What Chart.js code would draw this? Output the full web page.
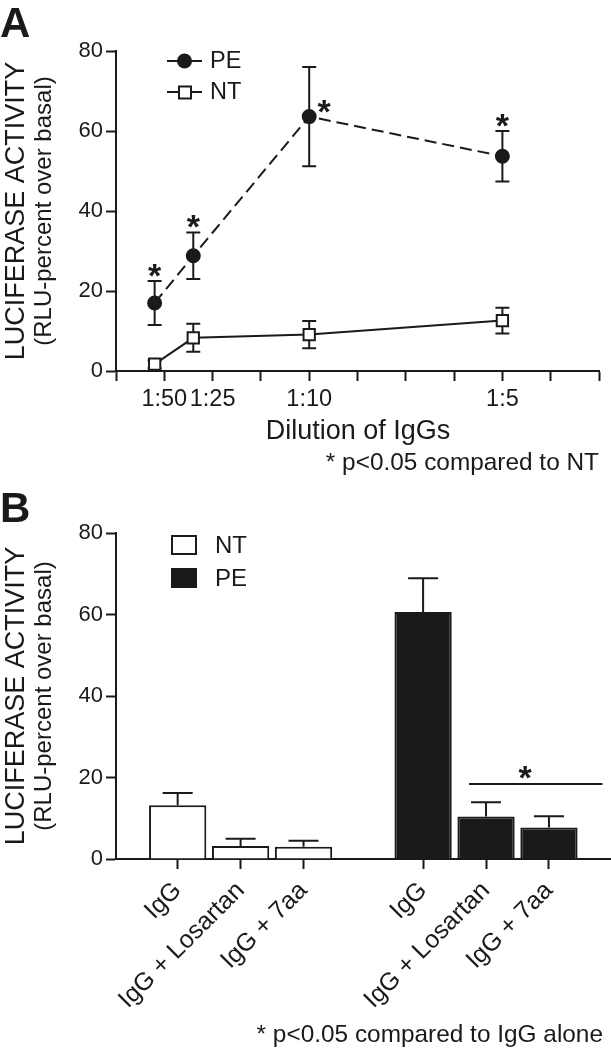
<!DOCTYPE html>
<html>
<head>
<meta charset="utf-8">
<script src="https://cdn.jsdelivr.net/npm/chart.js@4.4.1/dist/chart.umd.min.js"></script>
<style>
  html, body { margin: 0; padding: 0; background: #fff; }
  #wrap { position: relative; width: 611px; height: 1050px; }
  .panel { position: absolute; left: 0; width: 611px; }
  #panelA { top: 0; height: 480px; }
  #panelB { top: 480px; height: 570px; }
</style>
</head>
<body>
<div id="wrap">
  <div class="panel" id="panelA"><canvas id="chartA" width="611" height="480"></canvas></div>
  <div class="panel" id="panelB"><canvas id="chartB" width="611" height="570"></canvas></div>
</div>
<script>
// Panel A - activity vs dilution of IgGs
const dilutionLabels = ['1:50', '1:25', '1:10', '1:5'];
const dilutionTicks = [1, 2, 4, 8];
const dilutionX = [0.8, 1.6, 4, 8];
const pePoints = [17.0, 28.8, 63.6, 53.7];
const peErr = [5.5, 5.8, 12.4, 6.3];
const ntPoints = [1.7, 8.3, 9.1, 12.6];
const ntErr = [1.0, 3.5, 3.4, 3.2];
const peSig = [true, true, true, true];

// Panel B - receptor blockade
const groups = ['NT', 'PE'];
const treatments = ['IgG', 'IgG + Losartan', 'IgG + 7aa'];
const ntBars = [13.2, 3.2, 3.0];
const ntBarErr = [3.0, 1.8, 1.5];
const peBars = [60.6, 10.4, 7.7];
const peBarErr = [8.3, 3.5, 2.8];

const Y_TITLE = 'LUCIFERASE ACTIVITY';
const Y_SUBTITLE = '(RLU-percent over basal)';

const INK = '#1a1a1a';
const FONT = "'Liberation Sans', Arial, Helvetica, sans-serif";
Chart.defaults.font.family = FONT;
Chart.defaults.color = INK;

// where each star goes relative to its point
const starSide = ['above', 'above', 'right', 'above'];
// bracket over the blocked PE bars (data space)
const sigBracket = { from: 4.63, to: 6.75, y: 18.4, starX: 5.52 };
const GROUP_GAP = 1.9;

const barX = [];
const barLabels = [];
groups.forEach((g, gi) => {
  treatments.forEach((t, ti) => {
    barX.push(gi * (treatments.length - 1 + GROUP_GAP) + ti);
    barLabels.push(t);
  });
});

function drawStar(ctx, x, cy) {
  ctx.fillText('*', x, cy + 19.5);
}

function axisLine() {
  return { display: true, color: INK, width: 2 };
}
function tickMarks() {
  return { display: true, offset: false, drawOnChartArea: false, drawTicks: true, tickLength: 10, tickWidth: 2, tickColor: INK };
}

// texts and the rotated y title
function textPlugin(items) {
  return {
    id: 'panelText',
    afterDraw(chart) {
      const ctx = chart.ctx;
      const a = chart.chartArea;
      ctx.save();
      ctx.fillStyle = INK;
      ctx.textBaseline = 'alphabetic';
      items.forEach(t => {
        ctx.font = t.font;
        ctx.textAlign = t.align || 'left';
        ctx.fillText(t.text, t.x, t.y);
      });
      ctx.translate(24, (a.top + a.bottom) / 2);
      ctx.rotate(-Math.PI / 2);
      ctx.textAlign = 'center';
      ctx.font = '27px ' + FONT;
      ctx.fillText(Y_TITLE, 0, 0);
      ctx.font = '24px ' + FONT;
      ctx.fillText(Y_SUBTITLE, 0, 27);
      ctx.restore();
    }
  };
}

function errorBarPlugin(errs, capW, upOnly) {
  const hook = upOnly ? 'afterDatasetsDraw' : 'beforeDatasetsDraw';
  return {
    id: 'errorBars',
    [hook](chart) {
      const { ctx } = chart;
      const xs = chart.scales.x, ys = chart.scales.y;
      ctx.save();
      ctx.strokeStyle = INK;
      ctx.lineWidth = 2;
      chart.data.datasets.forEach((ds, di) => {
        ds.data.forEach((p, i) => {
          const e = errs[di][i];
          const px = xs.getPixelForValue(p.x);
          const top = ys.getPixelForValue(p.y + e);
          const bot = ys.getPixelForValue(upOnly ? p.y : p.y - e);
          ctx.beginPath();
          ctx.moveTo(px, top); ctx.lineTo(px, bot);
          ctx.moveTo(px - capW / 2, top); ctx.lineTo(px + capW / 2, top);
          if (!upOnly) { ctx.moveTo(px - capW / 2, bot); ctx.lineTo(px + capW / 2, bot); }
          ctx.stroke();
        });
      });
      ctx.restore();
    }
  };
}

const starsA = {
  id: 'starsA',
  afterDatasetsDraw(chart) {
    const { ctx } = chart;
    const xs = chart.scales.x, ys = chart.scales.y;
    ctx.save();
    ctx.fillStyle = INK;
    ctx.font = 'bold 34px ' + FONT;
    ctx.textAlign = 'center';
    dilutionX.forEach((xv, i) => {
      if (!peSig[i]) return;
      const px = xs.getPixelForValue(xv);
      if (starSide[i] === 'right') {
        drawStar(ctx, px + 15, ys.getPixelForValue(pePoints[i]) - 13);
      } else {
        drawStar(ctx, px, ys.getPixelForValue(pePoints[i] + peErr[i]) - 14);
      }
    });
    ctx.restore();
  }
};

const legendA = {
  id: 'legendA',
  afterDraw(chart) {
    const ctx = chart.ctx;
    chart.data.datasets.forEach((ds, i) => {
      const cy = 61 + i * 31;
      ctx.save();
      ctx.strokeStyle = INK;
      ctx.lineWidth = 2;
      ctx.beginPath(); ctx.moveTo(167, cy); ctx.lineTo(202, cy); ctx.stroke();
      if (ds.pointStyle === 'circle') {
        ctx.fillStyle = INK;
        ctx.beginPath(); ctx.arc(184.5, cy, 7.5, 0, Math.PI * 2); ctx.fill();
      } else {
        ctx.fillStyle = '#fff';
        ctx.fillRect(179, cy - 5.5, 12, 12);
        ctx.strokeRect(179, cy - 5.5, 12, 12);
      }
      ctx.fillStyle = INK;
      ctx.font = '23.5px ' + FONT;
      ctx.textBaseline = 'middle';
      ctx.textAlign = 'left';
      ctx.fillText(ds.label, 210, cy + 1);
      ctx.restore();
    });
  }
};

const legendB = {
  id: 'legendB',
  afterDraw(chart) {
    const ctx = chart.ctx;
    chart.data.datasets.forEach((ds, i) => {
      const cy = 65 + i * 33;
      ctx.save();
      ctx.lineWidth = 2;
      ctx.strokeStyle = INK;
      ctx.fillStyle = ds.backgroundColor;
      ctx.fillRect(172, cy - 9, 24, 18);
      ctx.strokeRect(172, cy - 9, 24, 18);
      ctx.fillStyle = INK;
      ctx.font = '24px ' + FONT;
      ctx.textBaseline = 'middle';
      ctx.fillText(ds.label, 215, cy + 1);
      ctx.restore();
    });
  }
};

const bracketB = {
  id: 'bracketB',
  afterDatasetsDraw(chart) {
    const { ctx } = chart;
    const xs = chart.scales.x, ys = chart.scales.y;
    const py = ys.getPixelForValue(sigBracket.y);
    ctx.save();
    ctx.strokeStyle = INK;
    ctx.lineWidth = 2;
    ctx.beginPath();
    ctx.moveTo(xs.getPixelForValue(sigBracket.from), py);
    ctx.lineTo(xs.getPixelForValue(sigBracket.to), py);
    ctx.stroke();
    ctx.fillStyle = INK;
    ctx.font = 'bold 34px ' + FONT;
    ctx.textAlign = 'center';
    drawStar(ctx, xs.getPixelForValue(sigBracket.starX), py - 15);
    ctx.restore();
  }
};

// ---- Panel A ----
new Chart(document.getElementById('chartA'), {
  type: 'line',
  data: {
    datasets: [
      {
        label: 'PE',
        data: dilutionX.map((x, i) => ({ x, y: pePoints[i] })),
        borderColor: INK,
        borderWidth: 2,
        borderDash: [12, 6],
        pointStyle: 'circle',
        pointRadius: 6.5,
        pointBorderWidth: 2,
        pointBackgroundColor: INK,
        pointBorderColor: INK,
        tension: 0,
        clip: false
      },
      {
        label: 'NT',
        data: dilutionX.map((x, i) => ({ x, y: ntPoints[i] })),
        borderColor: INK,
        borderWidth: 2,
        pointStyle: 'rect',
        pointRadius: 8,
        pointBorderWidth: 2,
        pointBackgroundColor: '#fff',
        pointBorderColor: INK,
        tension: 0,
        clip: false
      }
    ]
  },
  options: {
    responsive: false,
    animation: false,
    layout: { padding: { left: 56, top: 51, right: 12, bottom: 49 } },
    plugins: { legend: { display: false }, tooltip: { enabled: false } },
    scales: {
      x: {
        type: 'linear', min: 0, max: 10,
        border: axisLine(),
        grid: tickMarks(),
        ticks: {
          stepSize: 1, autoSkip: false, maxRotation: 0, padding: 4,
          font: { size: 23.5 }, color: INK,
          callback: v => { const k = dilutionTicks.indexOf(v); return k < 0 ? '' : dilutionLabels[k]; }
        },
        afterFit: s => { s.height = 60; }
      },
      y: {
        min: 0, max: 80,
        border: axisLine(),
        grid: tickMarks(),
        ticks: { stepSize: 20, padding: 3, font: { size: 22 }, color: INK },
        afterFit: s => { s.width = 60; }
      }
    }
  },
  plugins: [
    errorBarPlugin([peErr, ntErr], 14, false),
    starsA,
    legendA,
    textPlugin([
      { text: 'A', x: 0, y: 37, font: 'bold 42px ' + FONT },
      { text: 'Dilution of IgGs', x: 358, y: 439, font: '27px ' + FONT, align: 'center' },
      { text: '* p<0.05 compared to NT', x: 599, y: 470, font: '24.4px ' + FONT, align: 'right' }
    ])
  ]
});

// ---- Panel B ----
const nGroup = treatments.length;
new Chart(document.getElementById('chartB'), {
  type: 'bar',
  data: {
    datasets: [
      {
        label: 'NT',
        data: ntBars.map((v, i) => ({ x: barX[i], y: v })),
        backgroundColor: '#fff',
        borderColor: INK,
        borderWidth: 2
      },
      {
        label: 'PE',
        data: peBars.map((v, i) => ({ x: barX[nGroup + i], y: v })),
        backgroundColor: INK,
        borderColor: INK,
        borderWidth: 2
      }
    ]
  },
  options: {
    responsive: false,
    animation: false,
    grouped: false,
    categoryPercentage: 1,
    barPercentage: 0.91,
    layout: { padding: { left: 56, top: 53, right: 1, bottom: 11 } },
    plugins: { legend: { display: false }, tooltip: { enabled: false } },
    scales: {
      x: {
        type: 'linear', min: -0.98, max: 6.87, offset: false,
        border: axisLine(),
        grid: tickMarks(),
        afterBuildTicks: s => { s.ticks = barX.map(v => ({ value: v })); },
        ticks: {
          autoSkip: false, minRotation: 45, maxRotation: 45, padding: 7,
          font: { size: 25 }, color: INK,
          callback: (v, i) => barLabels[i]
        },
        afterFit: s => { s.height = 180; }
      },
      y: {
        min: 0, max: 80,
        border: axisLine(),
        grid: tickMarks(),
        ticks: { stepSize: 20, padding: 3, font: { size: 22 }, color: INK },
        afterFit: s => { s.width = 60; }
      }
    }
  },
  plugins: [
    errorBarPlugin([ntBarErr, peBarErr], 30, true),
    bracketB,
    legendB,
    textPlugin([
      { text: 'B', x: 0, y: 42, font: 'bold 42px ' + FONT },
      { text: '* p<0.05 compared to IgG alone', x: 603, y: 562, font: '24.4px ' + FONT, align: 'right' }
    ])
  ]
});
</script>
</body>
</html>
